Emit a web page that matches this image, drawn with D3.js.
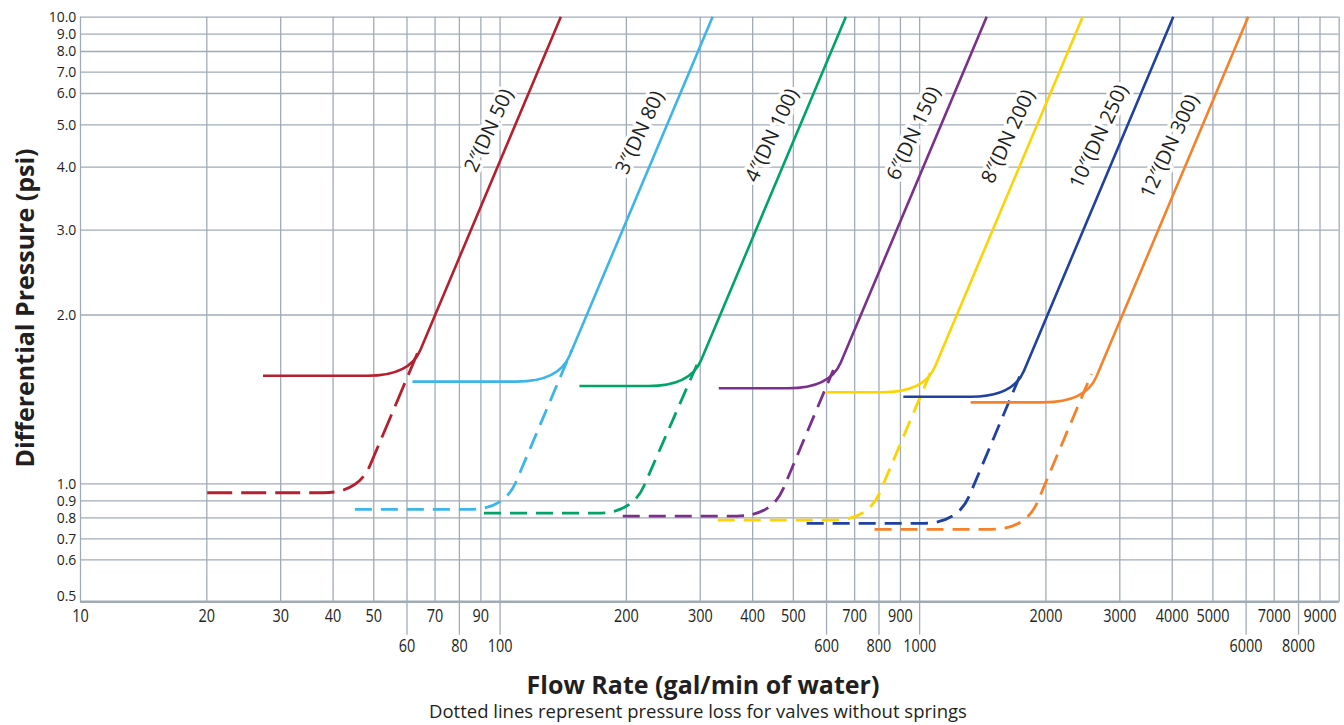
<!DOCTYPE html>
<html><head><meta charset="utf-8">
<script src="https://cdn.jsdelivr.net/npm/d3@7"></script>
<style>
body{margin:0;background:#fff}
svg{display:block;background:#fff}
</style></head>
<body><svg id="chart" width="1344" height="725"></svg>
<script>
// ---------------- DATA ----------------
const sizeLabels = ["2\u2033(DN 50)","3\u2033(DN 80)","4\u2033(DN 100)","6\u2033(DN 150)","8\u2033(DN 200)","10\u2033(DN 250)","12\u2033(DN 300)"];
// valves with springs (solid): flat pressure, start flow, knee flow (corner), flow at 10 psi
const springFlat  = [1.555, 1.518, 1.491, 1.477, 1.453, 1.427, 1.394];
const springStart = [27.3, 62, 155, 333, 600, 917, 1327];
const springKnee  = [61.0, 138.3, 284.7, 612.8, 1028, 1674, 2493];
const springTop   = [140, 322, 669, 1449, 2454, 4035, 6088];
const topPsi = 10;
// valves without springs (dashed): flat pressure, start flow, knee flow, end point on solid curve
const noSpringFlat    = [0.943, 0.845, 0.823, 0.807, 0.786, 0.770, 0.741];
const noSpringStart   = [20.1, 45.2, 91.8, 196.6, 331.1, 539.5, 783];
const noSpringKnee    = [46.1, 102.7, 206.9, 445.3, 755.9, 1236, 1797];
const noSpringEndFlow = [63.7, 148.6, 297.6, 624.4, 1083, 1742, 2575];
const noSpringEndPsi  = [1.705, 1.729, 1.648, 1.592, 1.625, 1.560, 1.566];
// pressure at which each size label sits along its line
const labelPsi = [4.85, 4.8, 4.73, 4.78, 4.7, 4.7, 4.46];

const xTicksRow1 = [10,20,30,40,50,70,90,200,300,400,500,700,900,2000,3000,4000,5000,7000,9000];
const xTicksRow2 = [60,80,100,600,800,1000,6000,8000];
const xGridExtra = [10000];
const yTicks = [0.5,0.6,0.7,0.8,0.9,1,2,3,4,5,6,7,8,9,10];

const xTitle = "Flow Rate (gal/min of water)";
const yTitle = "Differential Pressure (psi)";
const note = "Dotted lines represent pressure loss for valves without springs";

// ---------------- STYLE / LAYOUT ----------------
const colors = ["#b51f2e","#3db5e6","#00a466","#7b308c","#fdd300","#1f41a0","#f5822a"];
const dashes = ["25 9","17 9","17 9","17 9","17 9","17 9","17 9"];
const gridColor = "#a1abb8";
const textColor = "#231f20";
const font = "'Open Sans',sans-serif";
const L = 80, R = 1338.7, T = 16.7, B = 601.7;
// hand-spaced pressure axis of the original chart (pixel position of each tick)
const yTickPixel = [601.7,559.3,538.3,517.3,500.3,483.3,314.5,229.7,166.7,124.3,93,71.7,51,33.7,16.7];

const svg = d3.select("#chart");
const x = d3.scaleLog().domain([10, 10000]).range([L, R]);
const yLin = d3.scaleLinear().domain(yTicks.map(Math.log10)).range(yTickPixel);
const y = v => yLin(Math.log10(v));

// grid
const allX = xTicksRow1.concat(xTicksRow2, xGridExtra).sort((a,b)=>a-b);
const gx = svg.append("g").attr("transform", `translate(0,${T})`)
  .call(d3.axisBottom(x).tickValues(allX).tickSize(B - T).tickFormat(""));
gx.select(".domain").remove();
gx.selectAll("line").attr("stroke", gridColor).attr("stroke-width", 1.3);

const gy = svg.append("g").attr("transform", `translate(${L},0)`)
  .call(d3.axisLeft(yLin).tickValues(yTicks.map(Math.log10)).tickSize(-(R - L)).tickFormat(""));
gy.select(".domain").remove();
gy.selectAll("line").attr("stroke", gridColor).attr("stroke-width", 1.3);

svg.append("line").attr("x1", L).attr("x2", R).attr("y1", B).attr("y2", B)
  .attr("stroke", gridColor).attr("stroke-width", 2.4);

// x labels row 1
const ax1 = svg.append("g").attr("transform", `translate(0,${B})`)
  .call(d3.axisBottom(x).tickValues(xTicksRow1).tickSize(0).tickPadding(7).tickFormat(d3.format("d")));
ax1.select(".domain").remove();
// x labels row 2 with long ticks
const ax2 = svg.append("g").attr("transform", `translate(0,${B})`)
  .call(d3.axisBottom(x).tickValues(xTicksRow2).tickSize(33).tickPadding(4).tickFormat(d3.format("d")));
ax2.select(".domain").remove();
ax2.selectAll("line").attr("stroke", gridColor).attr("stroke-width", 1.3);
[ax1, ax2].forEach(a => a.selectAll("text").attr("fill", textColor)
  .attr("transform", "scale(0.76,1)")
  .style("font-family", font).style("font-size", "19px"));

// y labels
const ay = svg.append("g").attr("transform", `translate(${L},0)`)
  .call(d3.axisLeft(yLin).tickValues(yTicks.map(Math.log10)).tickSize(0).tickPadding(4)
    .tickFormat(d => Math.pow(10, d).toFixed(1)));
ay.select(".domain").remove();
ay.selectAll("text").attr("fill", textColor)
  .attr("transform", (d, i) => i === 0 ? "translate(0,-6) scale(0.93,1)" : "scale(0.93,1)")
  .style("font-family", font).style("font-size", "15px");

// titles
svg.append("text").attr("x", 703).attr("y", 694).attr("text-anchor", "middle")
  .attr("fill", textColor).style("font-family", font)
  .style("font-weight", 700).style("font-size", "25px").text(xTitle);
svg.append("text").attr("x", 698).attr("y", 718).attr("text-anchor", "middle")
  .attr("fill", textColor).style("font-family", font)
  .style("font-size", "18.5px").text(note);
svg.append("text").attr("transform", "translate(34,308) rotate(-90)").attr("text-anchor", "middle")
  .attr("fill", textColor).style("font-family", font)
  .style("font-weight", 700).style("font-size", "25px").text(yTitle);

// path with a rounded knee: flat run -> corner -> straight run
function kneePath(pts, t1, t2) {
  const [s, c, e] = pts.map(([f, p]) => [x(f), y(p)]);
  const dx = e[0] - c[0], dy = e[1] - c[1], len = Math.hypot(dx, dy);
  const p = d3.path();
  p.moveTo(s[0], s[1]);
  p.lineTo(c[0] - t1, c[1]);
  p.quadraticCurveTo(c[0], c[1], c[0] + dx / len * t2, c[1] + dy / len * t2);
  p.lineTo(e[0], e[1]);
  return p.toString();
}

const idx = d3.range(sizeLabels.length);

// size labels
svg.append("g").selectAll("text").data(idx).join("text")
  .attr("transform", i => {
    const cx = x(springKnee[i]), cy = y(springFlat[i]);
    const tx = x(springTop[i]), ty = y(topPsi);
    const ly = y(labelPsi[i]);
    const lx = cx + (ly - cy) * (tx - cx) / (ty - cy);
    return `translate(${lx - 25},${ly}) rotate(-65)`;
  })
  .attr("text-anchor", "middle").attr("dominant-baseline", "central")
  .attr("fill", textColor).attr("stroke", "#fff").attr("stroke-width", 7)
  .attr("paint-order", "stroke").attr("stroke-linejoin", "round")
  .style("font-family", font).style("font-size", "20px")
  .text(i => sizeLabels[i]);

// dashed (no spring)
svg.append("g").selectAll("path").data(idx).join("path")
  .attr("d", i => kneePath([[noSpringStart[i], noSpringFlat[i]], [noSpringKnee[i], noSpringFlat[i]],
    [noSpringEndFlow[i], noSpringEndPsi[i]]], 35, 30))
  .attr("fill", "none").attr("stroke", i => colors[i]).attr("stroke-width", 2.8)
  .attr("stroke-dasharray", i => dashes[i]);

// solid (spring)
svg.append("g").selectAll("path").data(idx).join("path")
  .attr("d", i => kneePath([[springStart[i], springFlat[i]], [springKnee[i], springFlat[i]],
    [springTop[i], topPsi]], 42, 28))
  .attr("fill", "none").attr("stroke", i => colors[i]).attr("stroke-width", 2.6);
</script>
</body></html>
